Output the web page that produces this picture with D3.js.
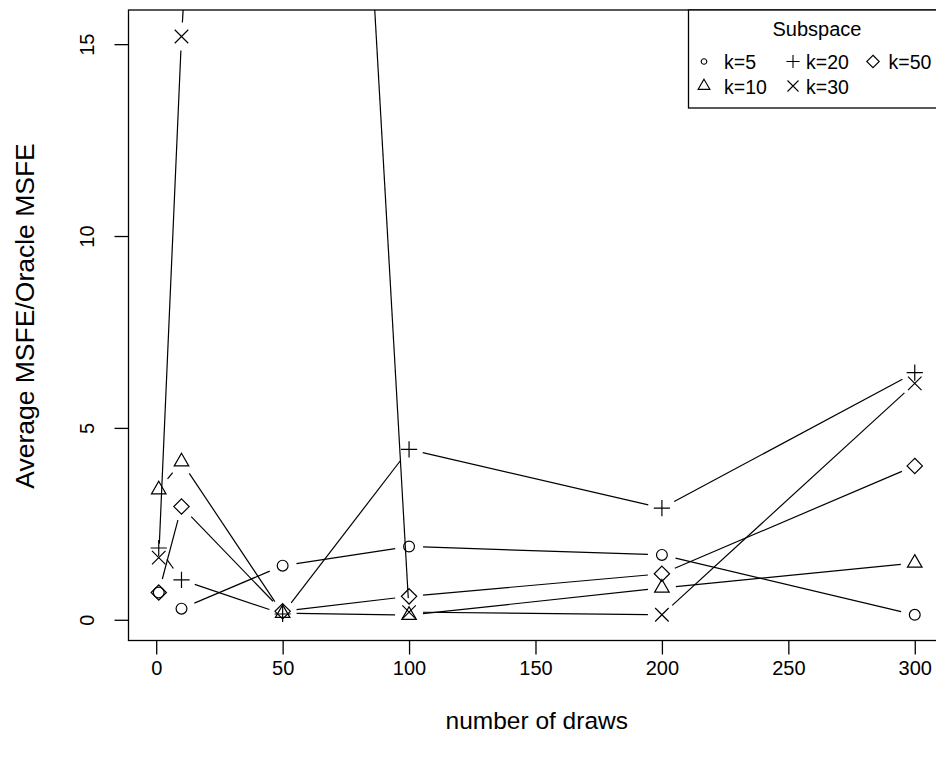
<!DOCTYPE html>
<html lang="en">
<head>
<meta charset="utf-8">
<title>Average MSFE / Oracle MSFE</title>
<script src="https://d3js.org/d3.v7.min.js"></script>
<style>
  body { margin: 0; background: #fff; }
  svg { display: block; font-family: "Liberation Sans", Arial, sans-serif; }
</style>
</head>
<body>
<div class="chart"></div>
<script>
// data
const draws = [1, 10, 50, 100, 200, 300];
const k5  = [0.71, 0.29, 1.41, 1.91, 1.69, 0.13];
const k10 = [3.39, 4.12, 0.17, 0.12, 0.83, 1.48];
const k20 = [1.87, 1.04, 0.15, 4.44, 2.91, 6.44];
const k30 = [1.62, 15.2, 58, 0.20, 0.13, 6.16];
const k50 = [0.71, 2.95, 0.22, 0.61, 1.20, 4.01];

const seriesNames = ["k=5", "k=10", "k=20", "k=30", "k=50"];
const xTicks = [0, 50, 100, 150, 200, 250, 300];
const yTicks = [0, 5, 10, 15];
const yLimits = [-0.54, 15.89];

const W = 936, H = 763;
const plotL = 128.5, plotR = 945, plotT = 10, plotB = 640.5;

// R style symbols, drawn as outlines
const symCircle = { draw(c, s) { c.moveTo(s, 0); c.arc(0, 0, s, 0, 2 * Math.PI); } };
const symTriangle = { draw(c, s) {
  c.moveTo(0, -1.555 * s); c.lineTo(1.347 * s, 0.778 * s); c.lineTo(-1.347 * s, 0.778 * s); c.closePath(); } };
const symPlus = { draw(c, s) {
  const h = 1.5 * s; c.moveTo(-h, 0); c.lineTo(h, 0); c.moveTo(0, -h); c.lineTo(0, h); } };
const symTimes = { draw(c, s) {
  const h = 1.25 * s; c.moveTo(-h, -h); c.lineTo(h, h); c.moveTo(-h, h); c.lineTo(h, -h); } };
const symDiamond = { draw(c, s) {
  const h = 1.42 * s; c.moveTo(0, -h); c.lineTo(h, 0); c.lineTo(0, h); c.lineTo(-h, 0); c.closePath(); } };

const series = [
  { name: seriesNames[0], values: k5,  sym: symCircle },
  { name: seriesNames[1], values: k10, sym: symTriangle },
  { name: seriesNames[2], values: k20, sym: symPlus },
  { name: seriesNames[3], values: k30, sym: symTimes },
  { name: seriesNames[4], values: k50, sym: symDiamond }
];

const svg = d3.select(".chart").append("svg")
  .attr("width", W).attr("height", H);

const xExt = d3.extent(draws);
const pad = (xExt[1] - xExt[0]) * 0.04;
const x = d3.scaleLinear().domain([xExt[0] - pad, xExt[1] + pad]).range([plotL, plotR]);
const y = d3.scaleLinear().domain(yLimits).range([plotB, plotT]);

svg.append("clipPath").attr("id", "plotclip")
  .append("rect").attr("x", plotL).attr("y", plotT)
  .attr("width", plotR - plotL).attr("height", plotB - plotT);

const plot = svg.append("g").attr("clip-path", "url(#plotclip)");

// type = "b": segments with a gap around every point
const gap = 14;
series.forEach(s => {
  const pts = s.values.map((v, i) => [x(draws[i]), y(v)]);
  for (let i = 0; i < pts.length - 1; i++) {
    const [x0, y0] = pts[i], [x1, y1] = pts[i + 1];
    const len = Math.hypot(x1 - x0, y1 - y0);
    if (len <= 2 * gap) continue;
    const f = gap / len;
    plot.append("line")
      .attr("x1", x0 + f * (x1 - x0)).attr("y1", y0 + f * (y1 - y0))
      .attr("x2", x1 - f * (x1 - x0)).attr("y2", y1 - f * (y1 - y0))
      .attr("stroke", "#000").attr("stroke-width", 1.2);
  }
  plot.selectAll(null)
    .data(s.values)
    .enter()
    .append("path")
    .attr("transform", (d, i) => `translate(${x(draws[i])},${y(d)})`)
    .attr("d", d3.symbol().type(s.sym).size(5.4))
    .attr("fill", "none")
    .attr("stroke", "#000")
    .attr("stroke-width", 1.2);
});

// box
svg.append("rect")
  .attr("x", plotL).attr("y", plotT)
  .attr("width", plotR - plotL).attr("height", plotB - plotT)
  .attr("fill", "none").attr("stroke", "#000").attr("stroke-width", 1.3);

// x axis
const xAxis = svg.append("g").attr("transform", `translate(0,${plotB})`)
  .call(d3.axisBottom(x).tickValues(xTicks).tickSize(14).tickPadding(6).tickFormat(d3.format("d")));
xAxis.select(".domain").remove();
xAxis.selectAll("line").attr("stroke", "#000").attr("stroke-width", 1.3);
xAxis.selectAll("text").attr("font-size", 20).attr("fill", "#000")
  .attr("font-family", "'Liberation Sans', Arial, sans-serif");

// y axis
const yAxis = svg.append("g").attr("transform", `translate(${plotL},0)`)
  .call(d3.axisLeft(y).tickValues(yTicks).tickSize(14).tickFormat(d3.format("d")));
yAxis.select(".domain").remove();
yAxis.selectAll("line").attr("stroke", "#000").attr("stroke-width", 1.3);
yAxis.selectAll("text")
  .attr("font-size", 20).attr("fill", "#000")
  .attr("font-family", "'Liberation Sans', Arial, sans-serif")
  .attr("x", null).attr("dy", null)
  .attr("text-anchor", "middle")
  .attr("transform", "translate(-35,0) rotate(-90)");

// axis titles
svg.append("text")
  .attr("x", (plotL + plotR) / 2).attr("y", 729)
  .attr("text-anchor", "middle").attr("font-size", 24.5)
  .text("number of draws");

svg.append("text")
  .attr("transform", "translate(34,316) rotate(-90)")
  .attr("text-anchor", "middle").attr("font-size", 26.5)
  .text("Average MSFE/Oracle MSFE");

// legend
const lg = svg.append("g");
lg.append("rect")
  .attr("x", 688.5).attr("y", plotT).attr("width", plotR - 688.5).attr("height", 98)
  .attr("fill", "#fff").attr("stroke", "#000").attr("stroke-width", 1.3);
lg.append("text").attr("x", 817).attr("y", 36)
  .attr("text-anchor", "middle").attr("font-size", 20).text("Subspace");

const legendSymX = [704, 793, 873];
const legendTextX = [724, 806, 888.5];
const legendRow = [61.5, 86];
series.forEach((s, j) => {
  const col = Math.floor(j / 2), row = j % 2;
  lg.append("path")
    .attr("transform", `translate(${legendSymX[col]},${legendRow[row]})`)
    .attr("d", d3.symbol().type(s.sym).size(j === 0 ? 2.8 : 4.4))
    .attr("fill", "none").attr("stroke", "#000").attr("stroke-width", 1.1);
  lg.append("text").attr("x", legendTextX[col]).attr("y", legendRow[row] + 7.5)
    .attr("font-size", 19.5).text(s.name);
});
</script>
</body>
</html>
